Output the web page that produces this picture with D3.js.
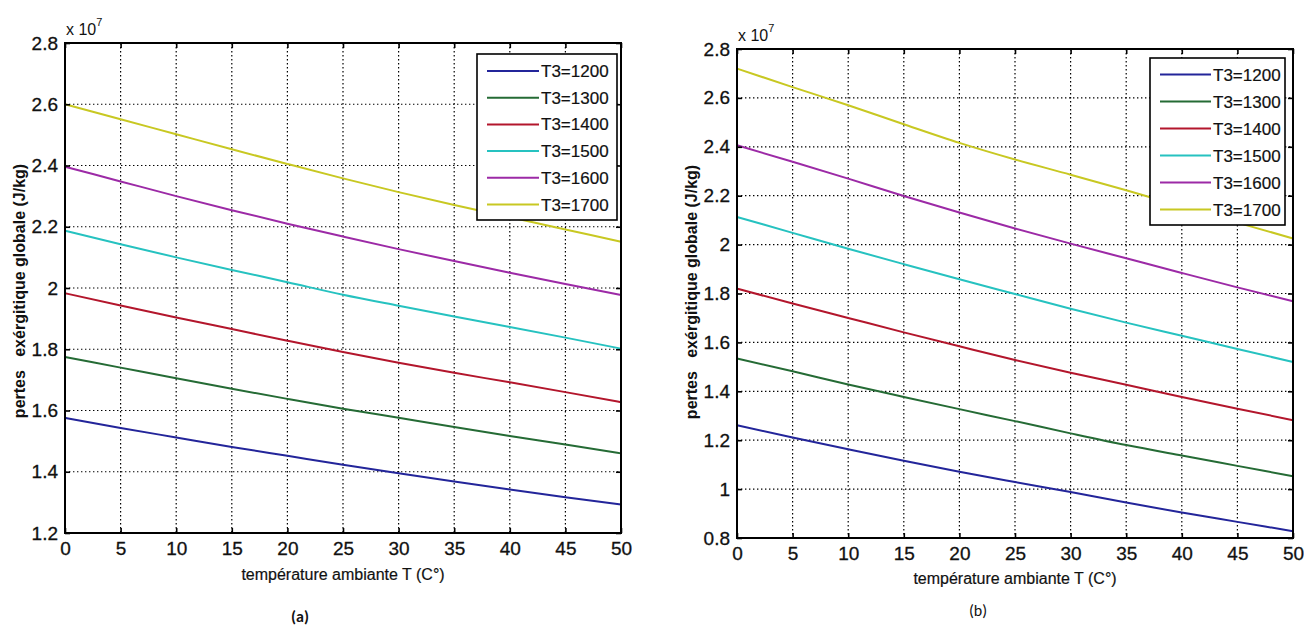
<!DOCTYPE html>
<html>
<head>
<meta charset="utf-8">
<script src="https://cdn.jsdelivr.net/npm/d3@7"></script>
<style>
  html, body { margin: 0; padding: 0; background: #fff; }
  svg { display: block; }
  text { font-family: "Liberation Sans", Arial, sans-serif; fill: #111; }
</style>
</head>
<body>
<svg id="fig" width="1304" height="627"></svg>
<script>
// Ambient temperature (°C) sampled every 5 degrees
const temps = [0, 5, 10, 15, 20, 25, 30, 35, 40, 45, 50];

// Series names (turbine inlet temperature T3)
const seriesNames = ["T3=1200", "T3=1300", "T3=1400", "T3=1500", "T3=1600", "T3=1700"];
const seriesColors = ["#23259a", "#256b35", "#b3162c", "#26c2c0", "#9c2aa6", "#c8c822"];

// Global exergy losses, panel (a), in units of 1e7 J/kg
const lossA1200 = [1.576, 1.543, 1.512, 1.481, 1.452, 1.423, 1.395, 1.368, 1.342, 1.317, 1.293];
const lossA1300 = [1.775, 1.740, 1.705, 1.671, 1.638, 1.606, 1.576, 1.546, 1.517, 1.489, 1.460];
const lossA1400 = [1.983, 1.943, 1.904, 1.866, 1.828, 1.791, 1.756, 1.723, 1.692, 1.660, 1.627];
const lossA1500 = [2.187, 2.143, 2.100, 2.059, 2.019, 1.978, 1.942, 1.907, 1.873, 1.838, 1.802];
const lossA1600 = [2.396, 2.348, 2.300, 2.254, 2.210, 2.168, 2.127, 2.088, 2.050, 2.013, 1.977];
const lossA1700 = [2.600, 2.551, 2.502, 2.453, 2.405, 2.358, 2.313, 2.271, 2.231, 2.191, 2.151];

// Global exergy losses, panel (b), in units of 1e7 J/kg
const lossB1200 = [1.261, 1.211, 1.163, 1.116, 1.071, 1.029, 0.988, 0.945, 0.904, 0.866, 0.828];
const lossB1300 = [1.534, 1.482, 1.428, 1.377, 1.327, 1.278, 1.228, 1.180, 1.137, 1.095, 1.053];
const lossB1400 = [1.820, 1.759, 1.700, 1.641, 1.584, 1.528, 1.476, 1.427, 1.377, 1.329, 1.282];
const lossB1500 = [2.113, 2.048, 1.983, 1.920, 1.858, 1.798, 1.738, 1.681, 1.627, 1.573, 1.520];
const lossB1600 = [2.406, 2.339, 2.270, 2.199, 2.131, 2.066, 2.004, 1.944, 1.884, 1.825, 1.768];
const lossB1700 = [2.720, 2.644, 2.570, 2.492, 2.416, 2.348, 2.286, 2.222, 2.156, 2.090, 2.025];

// Axis ticks
const xTicks = [0, 5, 10, 15, 20, 25, 30, 35, 40, 45, 50];
const yTicksA = [1.2, 1.4, 1.6, 1.8, 2.0, 2.2, 2.4, 2.6, 2.8];
const yTicksB = [0.8, 1.0, 1.2, 1.4, 1.6, 1.8, 2.0, 2.2, 2.4, 2.6, 2.8];

const xLabel = "température ambiante T (C°)";
const yLabel = "pertes\u00a0\u00a0\u00a0exérgitique globale (J/kg)";

const svg = d3.select("#fig");

function drawPanel(cfg) {
  const { left, right, top, bottom, yDomain, yTicks, series, legend, yLabelX, yLabelY, xLabelY, caption } = cfg;
  const x = d3.scaleLinear().domain([0, 50]).range([left, right]);
  const y = d3.scaleLinear().domain(yDomain).range([bottom, top]);
  const g = svg.append("g");

  // dotted grid
  g.append("g").selectAll("line").data(xTicks.slice(1, -1)).join("line")
    .attr("x1", d => x(d)).attr("x2", d => x(d))
    .attr("y1", top).attr("y2", bottom)
    .attr("stroke", "#000").attr("stroke-width", 1.2).attr("stroke-dasharray", "1.4,2.6");
  g.append("g").selectAll("line").data(yTicks.slice(1, -1)).join("line")
    .attr("x1", left).attr("x2", right)
    .attr("y1", d => y(d)).attr("y2", d => y(d))
    .attr("stroke", "#000").attr("stroke-width", 1.2).attr("stroke-dasharray", "1.4,2.6");

  // curves
  const line = d3.line().x((d, i) => x(temps[i])).y(d => y(d)).curve(d3.curveMonotoneX);
  g.append("g").selectAll("path").data(series).join("path")
    .attr("d", d => line(d))
    .attr("fill", "none")
    .attr("stroke", (d, i) => seriesColors[i])
    .attr("stroke-width", 2);

  // axes with inward ticks
  const tick = 5;
  const xb = d3.axisBottom(x).tickValues(xTicks).tickSizeInner(-tick).tickSizeOuter(0).tickPadding(9);
  const xt = d3.axisTop(x).tickValues(xTicks).tickSizeInner(-tick).tickSizeOuter(0).tickFormat("");
  const yl = d3.axisLeft(y).tickValues(yTicks).tickSizeInner(-tick).tickSizeOuter(0).tickPadding(7)
    .tickFormat(d => d3.format("~g")(d));
  const yr = d3.axisRight(y).tickValues(yTicks).tickSizeInner(-tick).tickSizeOuter(0).tickFormat("");

  const styleAxis = sel => {
    sel.select(".domain").remove();
    sel.selectAll("line").attr("stroke", "#000").attr("stroke-width", 1.6);
    sel.selectAll("text").style("font-size", "19px").attr("fill", "#111")
      .attr("stroke", "#111").attr("stroke-width", 0.3);
  };
  g.append("g").attr("transform", `translate(0,${bottom})`).call(xb).call(styleAxis);
  g.append("g").attr("transform", `translate(0,${top})`).call(xt).call(styleAxis);
  g.append("g").attr("transform", `translate(${left},0)`).call(yl).call(styleAxis);
  g.append("g").attr("transform", `translate(${right},0)`).call(yr).call(styleAxis);

  // box
  g.append("rect").attr("x", left).attr("y", top)
    .attr("width", right - left).attr("height", bottom - top)
    .attr("fill", "none").attr("stroke", "#000").attr("stroke-width", 2);

  // exponent label
  const ex = g.append("text").attr("x", left + 1).attr("y", top - 8).style("font-size", "16px");
  ex.append("tspan").text("x 10");
  ex.append("tspan").attr("dy", -9).style("font-size", "11px").text("7");

  // axis titles
  g.append("text").attr("x", (left + right) / 2).attr("y", xLabelY)
    .attr("text-anchor", "middle").style("font-size", "16px")
    .attr("stroke", "#111").attr("stroke-width", 0.2).text(xLabel);
  g.append("text")
    .attr("transform", `translate(${yLabelX},${yLabelY}) rotate(-90)`)
    .attr("text-anchor", "middle").style("font-size", "16px").style("font-weight", "bold")
    .text(yLabel);

  // legend
  const lg = g.append("g");
  lg.append("rect").attr("x", legend.x0).attr("y", legend.y0)
    .attr("width", legend.x1 - legend.x0).attr("height", legend.y1 - legend.y0)
    .attr("fill", "#fff").attr("stroke", "#000").attr("stroke-width", 1.6);
  const rows = lg.selectAll("g").data(seriesNames).join("g")
    .attr("transform", (d, i) => `translate(0,${legend.rowY0 + i * legend.rowStep})`);
  rows.append("line").attr("x1", legend.lineX0).attr("x2", legend.lineX1)
    .attr("y1", 0).attr("y2", 0)
    .attr("stroke", (d, i) => seriesColors[i]).attr("stroke-width", 2);
  rows.append("text").attr("x", legend.lineX1 + 2).attr("y", 6)
    .style("font-size", "17px").attr("stroke", "#111").attr("stroke-width", 0.2).text(d => d);

  // caption
  g.append("text").attr("x", caption.x).attr("y", caption.y).attr("text-anchor", "middle")
    .style("font-size", "16px").style("font-weight", caption.bold ? "bold" : "normal")
    .style("font-family", "Carlito, 'Liberation Sans', Arial, sans-serif")
    .text(caption.text);
}

drawPanel({
  left: 65, right: 621, top: 43, bottom: 533,
  yDomain: [1.2, 2.8], yTicks: yTicksA,
  series: [lossA1200, lossA1300, lossA1400, lossA1500, lossA1600, lossA1700],
  legend: { x0: 477, x1: 617, y0: 54, y1: 220, rowY0: 71, rowStep: 26.7, lineX0: 487, lineX1: 539 },
  yLabelX: 25, yLabelY: 291, xLabelY: 580,
  caption: { x: 300, y: 622, text: "(a)", bold: true }
});

drawPanel({
  left: 737, right: 1293, top: 49, bottom: 538,
  yDomain: [0.8, 2.8], yTicks: yTicksB,
  series: [lossB1200, lossB1300, lossB1400, lossB1500, lossB1600, lossB1700],
  legend: { x0: 1150, x1: 1285, y0: 58, y1: 225, rowY0: 74.5, rowStep: 27, lineX0: 1160, lineX1: 1211 },
  yLabelX: 697, yLabelY: 292, xLabelY: 584,
  caption: { x: 978, y: 616, text: "(b)", bold: false }
});
</script>
</body>
</html>
